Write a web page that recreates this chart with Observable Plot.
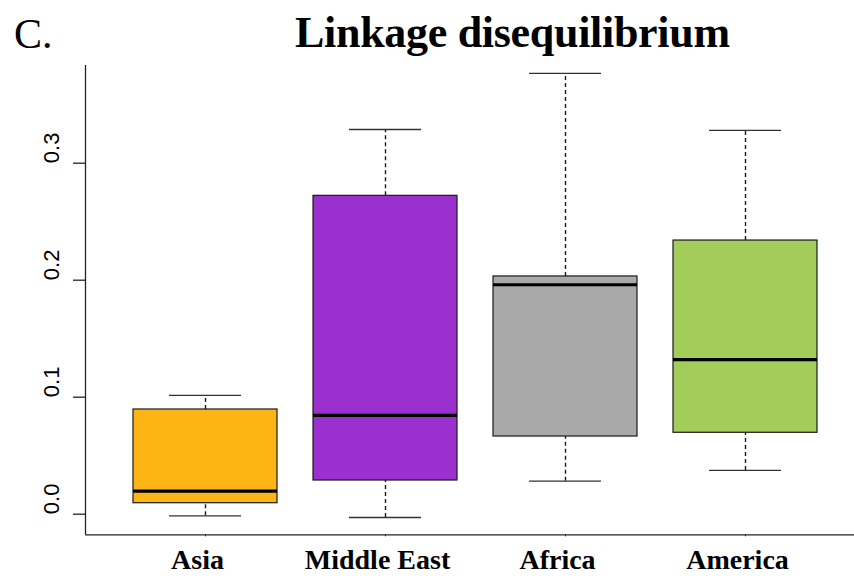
<!DOCTYPE html>
<html>
<head>
<meta charset="utf-8">
<script src="https://cdn.jsdelivr.net/npm/d3@7"></script>
<script src="https://cdn.jsdelivr.net/npm/@observablehq/plot@0.6"></script>
<style>
  html, body { margin: 0; padding: 0; background: #fff; }
  #wrap { position: relative; width: 854px; height: 576px; overflow: hidden; }
  #head { position: relative; width: 854px; height: 60px; }
  #panel { position: absolute; left: 14px; top: 13px; font: 400 42px/1 "Liberation Serif", serif; color: #000; }
  #title { position: absolute; left: 295px; top: 11px; font: 700 44px/1 "Liberation Serif", serif; color: #000; white-space: nowrap; letter-spacing: -0.3px; }
  svg { display: block; }
</style>
</head>
<body>
<div id="wrap">
  <div id="head"><span id="panel">C.</span><span id="title">Linkage disequilibrium</span></div>
  <div id="chart"></div>
</div>
<script>
// Data
const categories = ["Asia", "Middle East", "Africa", "America"];
const colors = ["#FDB515", "#9A30CD", "#A9A9A9", "#A2CD5A"];
const whiskerLow = [-0.0014, -0.0028, 0.0282, 0.0374];
const q1 = [0.0094, 0.0288, 0.0664, 0.0696];
const median = [0.0197, 0.0844, 0.1961, 0.1322];
const q3 = [0.0895, 0.2721, 0.2032, 0.2339];
const whiskerHigh = [0.1015, 0.3288, 0.3767, 0.3280];
const yTicks = [0, 0.1, 0.2, 0.3];

const rows = categories.map((c, k) => ({
  i: k + 1, cat: c, color: colors[k],
  lo: whiskerLow[k], q1: q1[k], med: median[k], q3: q3[k], hi: whiskerHigh[k]
}));

const boxHalf = 0.4, stapleHalf = 0.2;
const yDomain = [-0.0176, 0.3835];
const xDomain = [1 - 120 / 180, 1 - 120 / 180 + 769 / 180];

const chart = Plot.plot({
  width: 854,
  height: 516,
  marginTop: 5,
  marginBottom: 41.7,
  marginLeft: 85,
  marginRight: 0,
  x: { type: "linear", domain: xDomain },
  y: { domain: yDomain },
  style: { background: "#fff" },
  marks: [
    // whiskers (dashed)
    Plot.ruleX(rows, { x: "i", y1: "q3", y2: "hi", stroke: "#1a1a1a", strokeWidth: 1.4, strokeDasharray: "4,3" }),
    Plot.ruleX(rows, { x: "i", y1: "lo", y2: "q1", stroke: "#1a1a1a", strokeWidth: 1.4, strokeDasharray: "4,3" }),
    // staples
    Plot.ruleY(rows, { y: "hi", x1: d => d.i - stapleHalf, x2: d => d.i + stapleHalf, stroke: "#333", strokeWidth: 1.3 }),
    Plot.ruleY(rows, { y: "lo", x1: d => d.i - stapleHalf, x2: d => d.i + stapleHalf, stroke: "#333", strokeWidth: 1.3 }),
    // boxes
    Plot.rect(rows, { x1: d => d.i - boxHalf, x2: d => d.i + boxHalf, y1: "q1", y2: "q3", fill: "color", stroke: "#1a1a1a", strokeWidth: 1.2 }),
    // medians
    Plot.ruleY(rows, { y: "med", x1: d => d.i - boxHalf, x2: d => d.i + boxHalf, stroke: "#000", strokeWidth: 3.2 }),
    // axis lines
    Plot.ruleX([xDomain[0]], { stroke: "#222", strokeWidth: 1.3 }),
    Plot.ruleY([yDomain[0]], { stroke: "#222", strokeWidth: 1.3 }),
    // y axis ticks and rotated labels
    Plot.axisY({ ticks: yTicks, tickSize: 12, tickFormat: () => "", label: null, stroke: "#222", strokeWidth: 1.3 }),
    Plot.text(yTicks, { y: d => d, text: d => d.toFixed(1), frameAnchor: "left", dx: -34, rotate: -90,
      fontSize: 22, fontFamily: "Liberation Sans, Arial, sans-serif", fill: "#000" }),
    // x axis ticks
    Plot.axisX({ ticks: [1, 2, 3, 4], tickFormat: () => "", tickSize: 2, label: null, stroke: "#222" }),
    // x axis labels
    Plot.axisX({ ticks: [1, 2, 3, 4], tickFormat: d => categories[d - 1], tickSize: 0, tickPadding: 14,
      label: null, fontSize: 28, fontWeight: "bold", fontFamily: "Liberation Serif, Times New Roman, serif",
      fill: "#000", dx: -8 })
  ]
});
document.getElementById("chart").appendChild(chart);
</script>
</body>
</html>
